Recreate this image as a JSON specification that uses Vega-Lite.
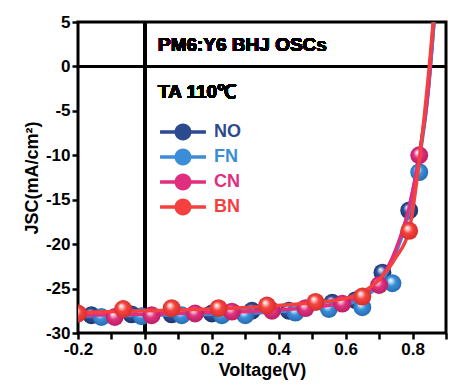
{
  "$schema": "https://vega.github.io/schema/vega-lite/v6.json",
  "width": 368,
  "height": 311,
  "padding": {"left": 23, "top": 13, "right": 5, "bottom": 5},
  "background": "white",
  "config": {
    "font": "Liberation Sans",
    "view": {"stroke": "black", "strokeWidth": 3},
    "axis": {
      "grid": false,
      "domain": false,
      "tickColor": "black",
      "tickWidth": 2.5,
      "tickSize": 6,
      "labelFont": "Liberation Sans",
      "labelFontWeight": "bold",
      "labelFontSize": 17,
      "labelColor": "black",
      "labelPadding": 2,
      "titleFont": "Liberation Sans",
      "titleFontWeight": "bold",
      "titleFontSize": 18,
      "titleColor": "black"
    }
  },
  "data": {
    "values": [
      {"s": "NO", "v": -0.2, "j": -28.0, "m": false},
      {"s": "NO", "v": 0.0, "j": -27.9, "m": false},
      {"s": "NO", "v": 0.2, "j": -27.7, "m": false},
      {"s": "NO", "v": 0.4, "j": -27.4, "m": false},
      {"s": "NO", "v": 0.5, "j": -27.1, "m": false},
      {"s": "NO", "v": 0.6, "j": -26.5, "m": false},
      {"s": "NO", "v": 0.65, "j": -25.8, "m": false},
      {"s": "NO", "v": 0.7, "j": -24.2, "m": false},
      {"s": "NO", "v": 0.75, "j": -20.8, "m": false},
      {"s": "NO", "v": 0.79, "j": -16.0, "m": false},
      {"s": "NO", "v": 0.82, "j": -10.0, "m": false},
      {"s": "NO", "v": 0.847, "j": -2.5, "m": false},
      {"s": "NO", "v": 0.864, "j": 5.0, "m": false},
      {"s": "FN", "v": -0.2, "j": -28.1, "m": false},
      {"s": "FN", "v": 0.0, "j": -28.0, "m": false},
      {"s": "FN", "v": 0.2, "j": -27.9, "m": false},
      {"s": "FN", "v": 0.4, "j": -27.6, "m": false},
      {"s": "FN", "v": 0.5, "j": -27.3, "m": false},
      {"s": "FN", "v": 0.6, "j": -26.8, "m": false},
      {"s": "FN", "v": 0.65, "j": -26.1, "m": false},
      {"s": "FN", "v": 0.7, "j": -24.5, "m": false},
      {"s": "FN", "v": 0.75, "j": -21.0, "m": false},
      {"s": "FN", "v": 0.79, "j": -16.3, "m": false},
      {"s": "FN", "v": 0.82, "j": -10.5, "m": false},
      {"s": "FN", "v": 0.847, "j": -2.8, "m": false},
      {"s": "FN", "v": 0.864, "j": 5.0, "m": false},
      {"s": "CN", "v": -0.2, "j": -28.0, "m": false},
      {"s": "CN", "v": 0.0, "j": -27.9, "m": false},
      {"s": "CN", "v": 0.2, "j": -27.7, "m": false},
      {"s": "CN", "v": 0.4, "j": -27.4, "m": false},
      {"s": "CN", "v": 0.5, "j": -27.1, "m": false},
      {"s": "CN", "v": 0.6, "j": -26.5, "m": false},
      {"s": "CN", "v": 0.65, "j": -25.7, "m": false},
      {"s": "CN", "v": 0.7, "j": -24.2, "m": false},
      {"s": "CN", "v": 0.75, "j": -20.6, "m": false},
      {"s": "CN", "v": 0.79, "j": -15.8, "m": false},
      {"s": "CN", "v": 0.82, "j": -10.0, "m": false},
      {"s": "CN", "v": 0.847, "j": -2.5, "m": false},
      {"s": "CN", "v": 0.862, "j": 5.0, "m": false},
      {"s": "BN", "v": -0.2, "j": -27.7, "m": false},
      {"s": "BN", "v": 0.0, "j": -27.5, "m": false},
      {"s": "BN", "v": 0.2, "j": -27.3, "m": false},
      {"s": "BN", "v": 0.4, "j": -26.9, "m": false},
      {"s": "BN", "v": 0.5, "j": -26.6, "m": false},
      {"s": "BN", "v": 0.6, "j": -26.1, "m": false},
      {"s": "BN", "v": 0.65, "j": -25.4, "m": false},
      {"s": "BN", "v": 0.7, "j": -24.0, "m": false},
      {"s": "BN", "v": 0.75, "j": -21.5, "m": false},
      {"s": "BN", "v": 0.79, "j": -18.4, "m": false},
      {"s": "BN", "v": 0.822, "j": -10.0, "m": false},
      {"s": "BN", "v": 0.85, "j": 0.0, "m": false},
      {"s": "BN", "v": 0.862, "j": 5.0, "m": false},
      {"s": "NO", "v": -0.16, "j": -28.0, "m": true},
      {"s": "NO", "v": -0.04, "j": -27.9, "m": true},
      {"s": "NO", "v": 0.08, "j": -27.9, "m": true},
      {"s": "NO", "v": 0.2, "j": -27.8, "m": true},
      {"s": "NO", "v": 0.32, "j": -27.5, "m": true},
      {"s": "NO", "v": 0.43, "j": -27.5, "m": true},
      {"s": "NO", "v": 0.56, "j": -26.6, "m": true},
      {"s": "NO", "v": 0.63, "j": -26.3, "m": true},
      {"s": "NO", "v": 0.71, "j": -23.2, "m": true},
      {"s": "NO", "v": 0.79, "j": -16.2, "m": true},
      {"s": "FN", "v": -0.13, "j": -28.2, "m": true},
      {"s": "FN", "v": -0.01, "j": -28.1, "m": true},
      {"s": "FN", "v": 0.11, "j": -28.0, "m": true},
      {"s": "FN", "v": 0.23, "j": -28.0, "m": true},
      {"s": "FN", "v": 0.3, "j": -28.0, "m": true},
      {"s": "FN", "v": 0.45, "j": -27.7, "m": true},
      {"s": "FN", "v": 0.55, "j": -27.3, "m": true},
      {"s": "FN", "v": 0.65, "j": -27.1, "m": true},
      {"s": "FN", "v": 0.74, "j": -24.4, "m": true},
      {"s": "FN", "v": 0.82, "j": -11.9, "m": true},
      {"s": "CN", "v": -0.09, "j": -28.2, "m": true},
      {"s": "CN", "v": 0.02, "j": -28.0, "m": true},
      {"s": "CN", "v": 0.15, "j": -27.8, "m": true},
      {"s": "CN", "v": 0.26, "j": -27.6, "m": true},
      {"s": "CN", "v": 0.38, "j": -27.5, "m": true},
      {"s": "CN", "v": 0.48, "j": -27.2, "m": true},
      {"s": "CN", "v": 0.59, "j": -26.7, "m": true},
      {"s": "CN", "v": 0.7, "j": -24.6, "m": true},
      {"s": "CN", "v": 0.82, "j": -10.0, "m": true},
      {"s": "BN", "v": -0.2, "j": -27.8, "m": true},
      {"s": "BN", "v": -0.065, "j": -27.3, "m": true},
      {"s": "BN", "v": 0.08, "j": -27.2, "m": true},
      {"s": "BN", "v": 0.22, "j": -27.2, "m": true},
      {"s": "BN", "v": 0.365, "j": -26.9, "m": true},
      {"s": "BN", "v": 0.51, "j": -26.5, "m": true},
      {"s": "BN", "v": 0.65, "j": -25.9, "m": true},
      {"s": "BN", "v": 0.79, "j": -18.5, "m": true}
    ]
  },
  "encoding": {
    "x": {
      "field": "v", "type": "quantitative",
      "scale": {"domain": [-0.2, 0.9], "nice": false, "zero": false},
      "axis": {
        "title": "Voltage(V)",
        "values": [-0.2, -0.1, 0, 0.1, 0.2, 0.3, 0.4, 0.5, 0.6, 0.7, 0.8, 0.9],
        "labelExpr": "abs(round(datum.value * 10)) % 2 == 0 ? replace(format(datum.value, '.1f'), '\u2212', '-') : ''",
        "labelFlush": false,
        "titlePadding": 4
      }
    },
    "y": {
      "field": "j", "type": "quantitative",
      "scale": {"domain": [-30, 5], "nice": false, "zero": false},
      "axis": {
        "title": "JSC(mA/cm²)",
        "values": [-30, -25, -20, -15, -10, -5, 0, 5],
        "labelExpr": "replace(format(datum.value, 'd'), '\u2212', '-')",
        "titlePadding": 4
      }
    }
  },
  "layer": [
    {"mark": {"type": "rule", "color": "black", "strokeWidth": 3}, "encoding": {"x": {"datum": 0}, "y": null}},
    {"mark": {"type": "rule", "color": "black", "strokeWidth": 3}, "encoding": {"y": {"datum": 0}, "x": null}},
    {"mark": {"type": "text", "text": "PM6:Y6 BHJ OSCs", "align": "left", "baseline": "middle", "fontSize": 19, "fontWeight": "bold", "font": "Liberation Sans", "fill": "black", "stroke": null, "strokeWidth": 0},
     "encoding": {"x": {"datum": 0.039}, "y": {"datum": 2.4}}},
    {"mark": {"type": "text", "text": "TA 110℃", "align": "left", "baseline": "middle", "fontSize": 19, "fontWeight": "bold", "font": "Liberation Sans", "fill": "black", "stroke": null, "strokeWidth": 0},
     "encoding": {"x": {"datum": 0.039}, "y": {"datum": -2.9}}},
    {
      "transform": [{"filter": "datum.s === 'NO' && !datum.m"}],
      "mark": {"type": "line", "interpolate": "monotone", "strokeWidth": 3.5, "clip": true},
      "encoding": {
        "color": {
          "field": "s", "type": "nominal",
          "scale": {"domain": ["NO", "FN", "CN", "BN"], "range": ["#2C4A8E", "#3A8DD6", "#DF2F7E", "#F4403E"]},
          "legend": {
            "title": null,
            "orient": "none",
            "legendX": 96,
            "legendY": 101,
            "padding": 0,
            "symbolType": "M-2.7,-0.22 L2.7,-0.22 L2.7,0.22 L-2.7,0.22 Z M-1,0 A1,1 0 1,1 1,0 A1,1 0 1,1 -1,0 Z",
            "symbolSize": 289,
            "symbolStrokeWidth": 0,
            "labelOffset": 22,
            "labelFontSize": 18,
            "labelFontWeight": "bold",
            "labelFont": "Liberation Sans",
            "rowPadding": 7,
            "encode": {
              "labels": {"update": {"fill": {"scale": "color", "field": "value"}}},
              "symbols": {"update": {"fill": {"scale": "color", "field": "value"}, "fillOpacity": {"value": 1}, "strokeWidth": {"value": 0}}}
            }
          }
        }
      }
    },
    {
      "transform": [{"filter": "datum.s === 'NO' && datum.m"}],
      "mark": {"type": "point", "shape": "circle", "filled": true, "opacity": 1, "size": 320, "clip": true,
        "fill": {"gradient": "radial", "x1": 0.38, "y1": 0.32, "r1": 0, "x2": 0.5, "y2": 0.5, "r2": 0.55,
          "stops": [{"offset": 0, "color": "#ffffff"}, {"offset": 0.18, "color": "#b9c4e6"}, {"offset": 0.45, "color": "#32529a"}, {"offset": 1, "color": "#1b2d62"}]}}
    },
    {
      "transform": [{"filter": "datum.s === 'FN' && !datum.m"}],
      "mark": {"type": "line", "interpolate": "monotone", "strokeWidth": 3.5, "clip": true},
      "encoding": {"color": {"field": "s", "type": "nominal"}}
    },
    {
      "transform": [{"filter": "datum.s === 'FN' && datum.m"}],
      "mark": {"type": "point", "shape": "circle", "filled": true, "opacity": 1, "size": 320, "clip": true,
        "fill": {"gradient": "radial", "x1": 0.38, "y1": 0.32, "r1": 0, "x2": 0.5, "y2": 0.5, "r2": 0.55,
          "stops": [{"offset": 0, "color": "#ffffff"}, {"offset": 0.18, "color": "#bfe0f8"}, {"offset": 0.45, "color": "#3a8fd8"}, {"offset": 1, "color": "#2467ad"}]}}
    },
    {
      "transform": [{"filter": "datum.s === 'CN' && !datum.m"}],
      "mark": {"type": "line", "interpolate": "monotone", "strokeWidth": 3.5, "clip": true},
      "encoding": {"color": {"field": "s", "type": "nominal"}}
    },
    {
      "transform": [{"filter": "datum.s === 'CN' && datum.m"}],
      "mark": {"type": "point", "shape": "circle", "filled": true, "opacity": 1, "size": 320, "clip": true,
        "fill": {"gradient": "radial", "x1": 0.38, "y1": 0.32, "r1": 0, "x2": 0.5, "y2": 0.5, "r2": 0.55,
          "stops": [{"offset": 0, "color": "#ffffff"}, {"offset": 0.18, "color": "#f6b8d4"}, {"offset": 0.45, "color": "#e0327f"}, {"offset": 1, "color": "#b51b62"}]}}
    },
    {
      "transform": [{"filter": "datum.s === 'BN' && !datum.m"}],
      "mark": {"type": "line", "interpolate": "monotone", "strokeWidth": 3.5, "clip": true},
      "encoding": {"color": {"field": "s", "type": "nominal"}}
    },
    {
      "transform": [{"filter": "datum.s === 'BN' && datum.m"}],
      "mark": {"type": "point", "shape": "circle", "filled": true, "opacity": 1, "size": 320, "clip": true,
        "fill": {"gradient": "radial", "x1": 0.38, "y1": 0.32, "r1": 0, "x2": 0.5, "y2": 0.5, "r2": 0.55,
          "stops": [{"offset": 0, "color": "#ffffff"}, {"offset": 0.18, "color": "#fbc2c0"}, {"offset": 0.45, "color": "#f4443f"}, {"offset": 1, "color": "#d42a28"}]}}
    }
  ]
}
